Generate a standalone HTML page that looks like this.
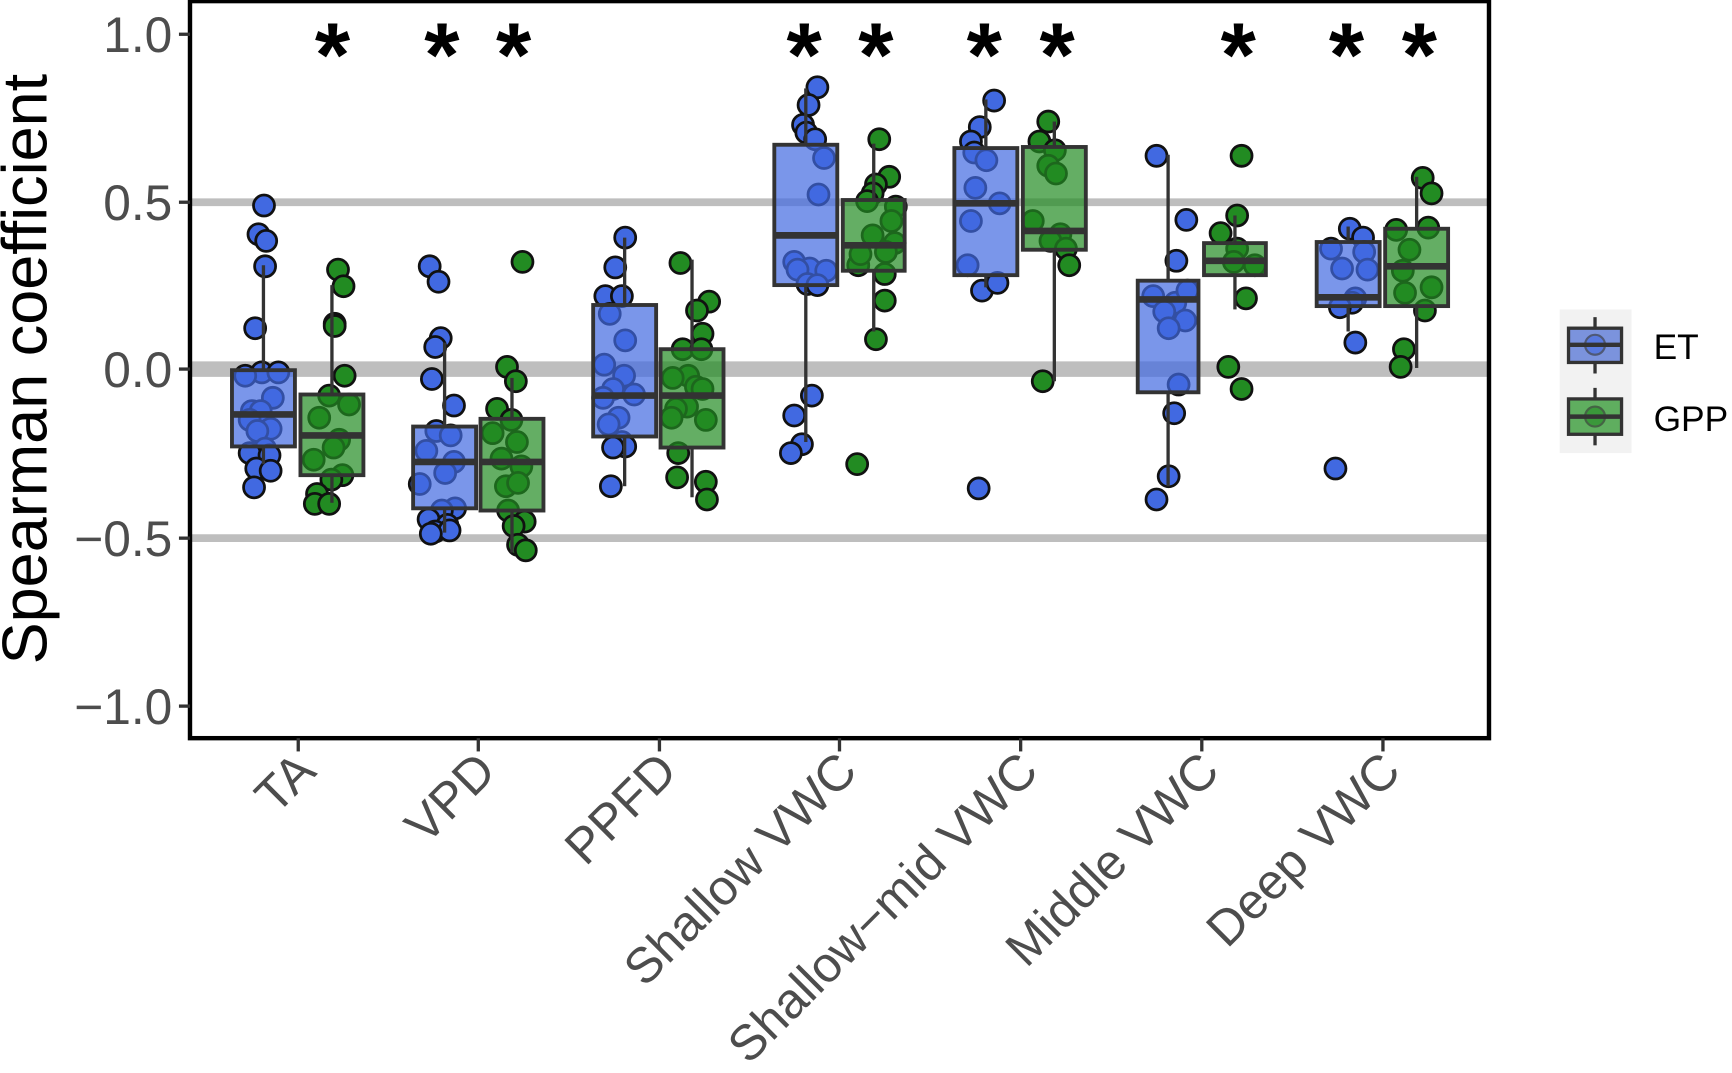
<!DOCTYPE html>
<html><head><meta charset="utf-8"><style>html,body{margin:0;padding:0;background:#fff}svg{display:block}</style></head><body>
<svg width="1732" height="1073" viewBox="0 0 1568 971" preserveAspectRatio="none" xmlns="http://www.w3.org/2000/svg" font-family="Liberation Sans, Arial, sans-serif">
<rect x="0" y="0" width="1568" height="971" fill="#fff"/>
<line x1="172" x2="1348" y1="183" y2="183" stroke="#bebebe" stroke-width="7"/>
<line x1="172" x2="1348" y1="334" y2="334" stroke="#bebebe" stroke-width="14"/>
<line x1="172" x2="1348" y1="487" y2="487" stroke="#bebebe" stroke-width="7"/>
<g id="pts" stroke="#111" stroke-width="2.5"></g>
<g id="boxes"></g>
<rect x="172" y="1" width="1176" height="667" fill="none" stroke="#000" stroke-width="4"/>
<g fill="#4d4d4d" font-size="45" text-anchor="end">
<text x="156" y="47">1.0</text><text x="156" y="199">0.5</text><text x="156" y="350">0.0</text><text x="156" y="503">−0.5</text><text x="156" y="655">−1.0</text>
</g>
<g stroke="#333" stroke-width="3">
<line x1="162" x2="172" y1="31" y2="31"/><line x1="162" x2="172" y1="183" y2="183"/><line x1="162" x2="172" y1="334" y2="334"/><line x1="162" x2="172" y1="487" y2="487"/><line x1="162" x2="172" y1="639" y2="639"/>
</g>
<text transform="translate(42,334) rotate(-90)" font-size="57" text-anchor="middle" fill="#000">Spearman coefficient</text>
<g id="xl" fill="#4d4d4d" font-size="45" text-anchor="end"></g>
<g font-size="82" font-weight="bold" text-anchor="middle" fill="#000" id="ast"></g>
<rect x="1412" y="280" width="65" height="130" fill="#f2f2f2"/>
<line x1="1444" x2="1444" y1="287" y2="338" stroke="#333" stroke-width="3"/>
<rect x="1420" y="297" width="48" height="31" fill="#7b93dd" stroke="#333" stroke-width="3"/>
<circle cx="1444" cy="312" r="9" fill="#4169e1" stroke="#333" stroke-width="2" opacity="0.6"/>
<line x1="1420" x2="1468" y1="312" y2="312" stroke="#333" stroke-width="4"/>
<line x1="1444" x2="1444" y1="351" y2="403" stroke="#333" stroke-width="3"/>
<rect x="1420" y="361" width="48" height="32" fill="#5fae5f" stroke="#333" stroke-width="3"/>
<circle cx="1444" cy="377" r="9" fill="#228b22" stroke="#333" stroke-width="2" opacity="0.6"/>
<line x1="1420" x2="1468" y1="377" y2="377" stroke="#333" stroke-width="4"/>
<text x="1497" y="325" font-size="32" fill="#000">ET</text>
<text x="1497" y="390" font-size="32" fill="#000">GPP</text>
</svg>
<script>
const NS="http://www.w3.org/2000/svg";
function el(t,a,p,txt){const e=document.createElementNS(NS,t);for(const k in a)e.setAttribute(k,a[k]);if(txt)e.textContent=txt;document.getElementById(p).appendChild(e);}
const B="#4169e1",G="#228b22";
const P=[
[B,[[239,186],[234,212],[241,218],[240,241],[231,297],[237,337],[252,337],[222,340],[247,360],[228,372],[236,372],[245,388],[226,380],[233,390],[240,406],[226,410],[244,412],[232,424],[230,441],[245,426]]],
[G,[[306,244],[311,259],[303,293],[303,295],[312,340],[298,358],[316,366],[289,378],[307,398],[302,405],[284,416],[310,430],[300,434],[287,447],[285,456],[298,456]]],
[B,[[389,241],[397,255],[399,306],[394,314],[391,343],[411,367],[395,390],[408,394],[386,408],[411,418],[403,428],[380,438],[412,460],[400,462],[388,470],[405,475],[394,481],[407,480],[390,483]]],
[G,[[473,237],[459,332],[467,345],[450,370],[463,380],[446,392],[468,400],[454,415],[472,422],[458,440],[469,437],[460,462],[475,472],[465,476],[469,493],[476,498]]],
[B,[[566,215],[557,242],[548,268],[563,268],[552,284],[566,308],[547,330],[565,340],[555,352],[574,357],[546,360],[560,378],[551,384],[563,400],[566,404],[555,405],[553,440]]],
[G,[[616,238],[642,273],[631,281],[636,302],[618,316],[635,316],[623,340],[609,342],[630,350],[636,352],[622,368],[612,370],[608,378],[639,380],[614,410],[613,432],[639,436],[640,452]]],
[B,[[740,79],[732,95],[727,113],[730,120],[738,126],[746,143],[741,176],[719,237],[733,243],[722,244],[748,245],[731,257],[740,258],[735,358],[719,376],[726,402],[716,410]]],
[G,[[796,126],[805,160],[793,167],[790,175],[785,182],[811,187],[807,200],[790,213],[810,220],[802,228],[777,240],[779,230],[801,248],[801,272],[793,307],[776,420]]],
[B,[[900,91],[887,115],[879,128],[882,138],[893,145],[883,170],[905,184],[879,200],[876,240],[889,263],[903,256],[886,442]]],
[G,[[949,110],[941,128],[955,136],[949,150],[956,157],[935,200],[960,212],[951,218],[965,225],[968,240],[944,345]]],
[B,[[1047,141],[1074,199],[1065,236],[1044,268],[1064,274],[1075,263],[1073,290],[1054,282],[1058,297],[1067,348],[1063,374],[1058,431],[1047,452]]],
[G,[[1124,141],[1120,195],[1105,211],[1120,225],[1117,237],[1136,240],[1128,270],[1112,332],[1124,352]]],
[B,[[1222,207],[1234,215],[1205,225],[1235,228],[1215,243],[1227,270],[1224,274],[1238,244],[1213,278],[1227,310],[1209,424]]],
[G,[[1288,161],[1296,175],[1264,208],[1293,206],[1276,226],[1270,245],[1296,260],[1272,265],[1290,281],[1271,316],[1268,332]]]];
P.forEach(([c,l])=>l.forEach(([x,y])=>el("circle",{cx:x,cy:y,r:9.5,fill:c},"pts")));
const BX=[[210,267,335,404,375,240,420,B],[272,329,357,430,394,258,455,G],
[374,431,386,460,418,310,482,B],[435,492,379,462,418,342,500,G],
[537,594,276,395,358,215,440,B],[598,655,316,405,358,235,450,G],
[701,758,131,258,213,80,400,B],[763,819,181,245,222,130,300,G],
[864,921,134,249,184,90,260,B],[926,983,133,226,209,110,345,G],
[1030,1085,254,355,271,140,440,B],[1090,1146,220,249,236,195,280,G],
[1192,1249,219,277,269,205,300,B],[1254,1311,207,277,241,160,333,G]];
BX.forEach(([a,b,t,q,m,wt,wb,c])=>{const cx=(a+b)/2;
el("line",{x1:cx,x2:cx,y1:wt,y2:t,stroke:"#333","stroke-width":3},"boxes");
el("line",{x1:cx,x2:cx,y1:q,y2:wb,stroke:"#333","stroke-width":3},"boxes");
el("rect",{x:a,y:t,width:b-a,height:q-t,fill:c,"fill-opacity":0.7,stroke:"#333","stroke-width":3.5},"boxes");
el("line",{x1:a,x2:b,y1:m,y2:m,stroke:"#333","stroke-width":6},"boxes");});
const X=[[270,"TA"],[433,"VPD"],[597,"PPFD"],[760,"Shallow VWC"],[924,"Shallow−mid VWC"],[1088,"Middle VWC"],[1252,"Deep VWC"]];
X.forEach(([x,t])=>{el("line",{x1:x,x2:x,y1:668,y2:680,stroke:"#333","stroke-width":3},"xl");
el("text",{transform:`translate(${x+18},${700}) rotate(-45)`},"xl",t);});
[301,400,465,728,793,891,957,1121,1219,1285].forEach(x=>el("text",{x:x,y:78},"ast","*"));
</script>
</body></html>
